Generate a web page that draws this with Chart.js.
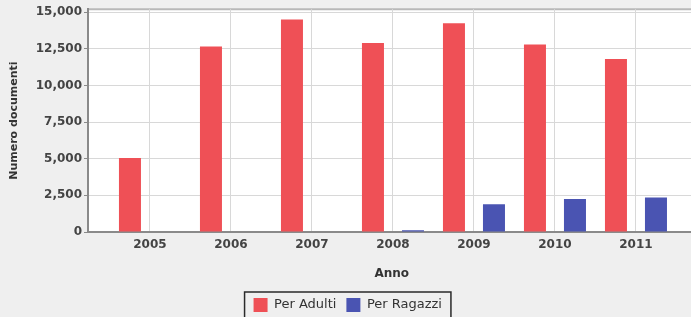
<!DOCTYPE html>
<html>
<head>
<meta charset="utf-8">
<script src="https://cdn.jsdelivr.net/npm/chart.js@4"></script>
<style>
html,body{margin:0;padding:0;background:#efefef;overflow:hidden;}
#wrap{width:700px;height:317px;}
</style>
</head>
<body>
<div id="wrap"><canvas id="c" width="700" height="317"></canvas></div>
<script>
const years = [2005, 2006, 2007, 2008, 2009, 2010, 2011];
const yearLabels = ['2005', '2006', '2007', '2008', '2009', '2010', '2011'];
const perAdulti = [5050, 12650, 14500, 12900, 14250, 12800, 11800];
const perRagazzi = [0, 0, 0, 120, 1900, 2250, 2350];
const yTicks = [0, 2500, 5000, 7500, 10000, 12500, 15000];
const seriesNames = ['Per Adulti', 'Per Ragazzi'];

const FONT = "'DejaVu Sans', Verdana, sans-serif";

const plotBg = {
  id: 'plotBg',
  beforeDraw(chart) {
    const {ctx, chartArea: a} = chart;
    ctx.save();
    ctx.fillStyle = '#ffffff';
    ctx.fillRect(a.left, a.top, a.right - a.left, a.bottom - a.top);
    ctx.strokeStyle = '#b8b8b8';
    ctx.lineWidth = 2;
    ctx.beginPath();
    ctx.moveTo(a.left, a.top);
    ctx.lineTo(a.right, a.top);
    ctx.stroke();
    ctx.restore();
  },
  afterDraw(chart) {
    const lg = chart.legend;
    if (!lg || !lg.legendHitBoxes || !lg.legendHitBoxes.length) return;
    const hb = lg.legendHitBoxes;
    const first = hb[0], last = hb[hb.length - 1];
    const ctx = chart.ctx;
    ctx.save();
    ctx.strokeStyle = '#2a2a2a';
    ctx.lineWidth = 1.5;
    const x0 = first.left - 9, x1 = last.left + last.width + 9;
    const cy = first.top + first.height / 2;
    ctx.strokeRect(x0, cy - 13, x1 - x0, 26);
    ctx.restore();
  }
};

new Chart(document.getElementById('c'), {
  type: 'bar',
  data: {
    datasets: [
      {
        label: seriesNames[0],
        data: years.map((y, i) => ({x: y, y: perAdulti[i]})),
        backgroundColor: '#ef5056',
        borderWidth: 0
      },
      {
        label: seriesNames[1],
        data: years.map((y, i) => ({x: y, y: perRagazzi[i]})),
        backgroundColor: '#4a54b2',
        borderWidth: 0
      }
    ]
  },
  plugins: [plotBg],
  options: {
    responsive: false,
    animation: false,
    devicePixelRatio: 1,
    categoryPercentage: 0.988,
    barPercentage: 0.55,
    layout: {padding: {left: 0, right: 4.5, top: 9, bottom: -5}},
    plugins: {
      tooltip: {enabled: false},
      legend: {
        position: 'bottom',
        labels: {
          boxWidth: 14,
          boxHeight: 14,
          padding: 10,
          color: '#333333',
          font: {family: FONT, size: 13}
        }
      }
    },
    scales: {
      x: {
        type: 'linear',
        offset: false,
        min: 2004.235,
        max: 2011.735,
        afterBuildTicks(scale) { scale.ticks = years.map(v => ({value: v})); },
        afterFit(scale) { scale.height = 56; },
        ticks: {
          callback(v) { const i = years.indexOf(v); return i >= 0 ? yearLabels[i] : ''; },
          color: '#444444',
          font: {family: FONT, size: 12, weight: 'bold'},
          padding: 6,
          maxRotation: 0,
          autoSkip: false
        },
        grid: {color: '#d8d8d8', lineWidth: 1, drawTicks: false, offset: false},
        border: {color: '#8a8a8a', width: 2},
        title: {
          display: true,
          text: 'Anno',
          color: '#333333',
          font: {family: FONT, size: 12, weight: 'bold'},
          padding: {top: 4, bottom: 7}
        }
      },
      y: {
        min: 0,
        max: 15200,
        afterBuildTicks(scale) { scale.ticks = yTicks.map(v => ({value: v})); },
        afterFit(scale) { scale.width = 88; },
        ticks: {
          callback(v) { return v.toLocaleString('en-US'); },
          color: '#444444',
          font: {family: FONT, size: 12, weight: 'bold'},
          padding: 2
        },
        grid: {color: '#d8d8d8', lineWidth: 1, tickLength: 4, tickColor: '#8a8a8a'},
        border: {color: '#8a8a8a', width: 2},
        title: {
          display: true,
          text: 'Numero documenti',
          color: '#333333',
          font: {family: FONT, size: 11, weight: 'bold'},
          padding: {top: 8, bottom: 0}
        }
      }
    }
  }
});
</script>
</body>
</html>
